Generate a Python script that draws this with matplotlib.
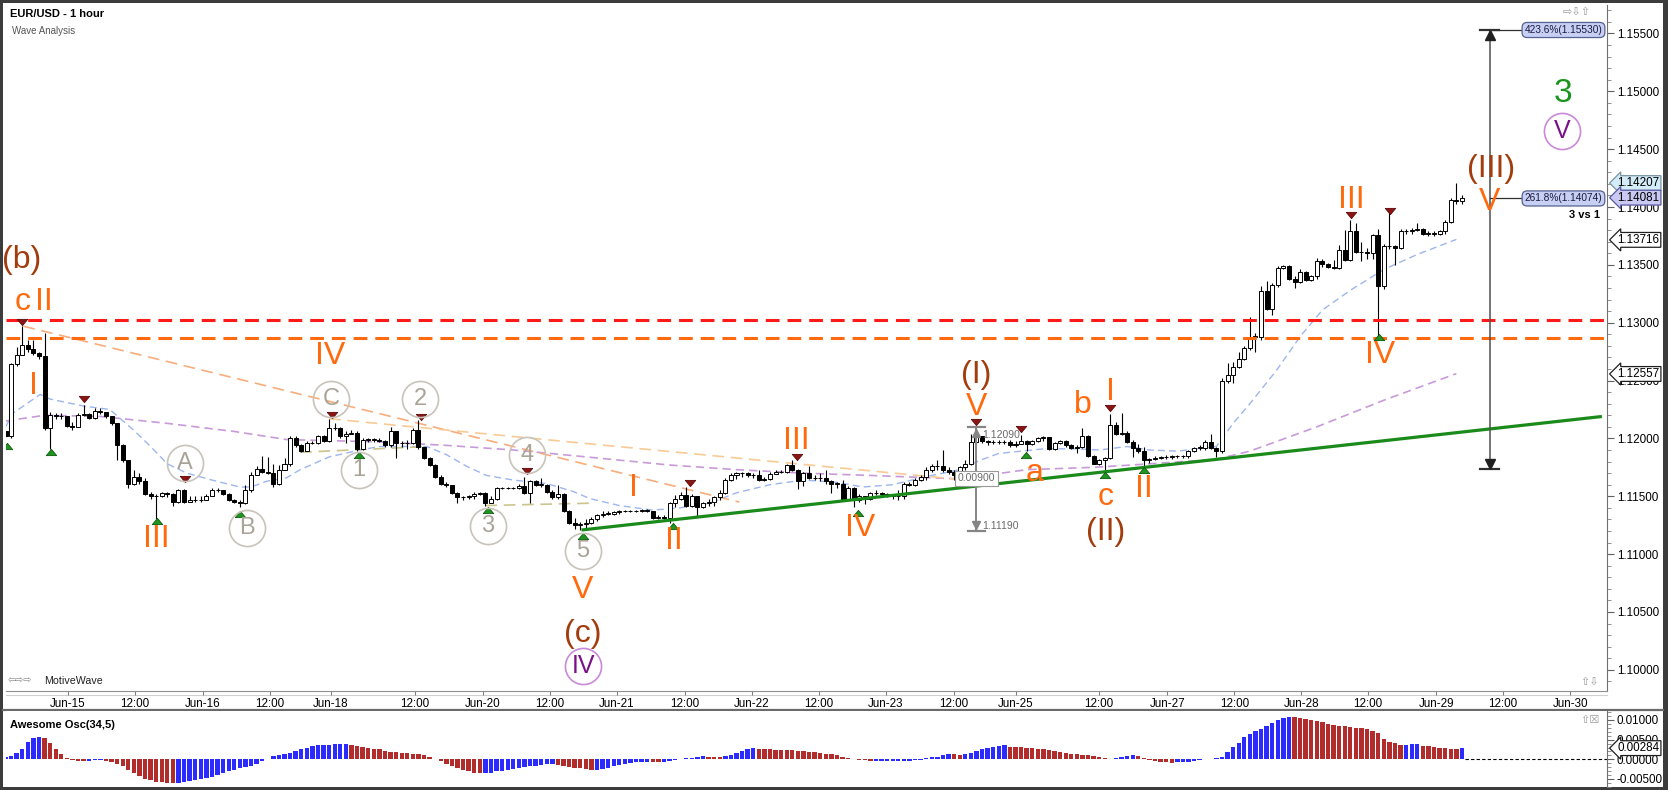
import matplotlib
matplotlib.use("Agg")
import matplotlib.pyplot as plt
from matplotlib.patches import Rectangle
from matplotlib.lines import Line2D
from matplotlib.ticker import MultipleLocator
from matplotlib.transforms import blended_transform_factory
import numpy as np

W, H, DPI = 1668, 790, 100
plt.rcParams['font.family'] = ['Liberation Sans', 'DejaVu Sans']

# ---------------- data ----------------
open0 = 1.1206
close = [
    1.1202, 1.1264, 1.1272, 1.1281, 1.1277, 1.1274, 1.1271, 1.1209, 1.1220, 1.1219,
    1.1219, 1.1211, 1.1210, 1.1220, 1.1221, 1.1218, 1.1224, 1.1223, 1.1219, 1.1213,
    1.1194, 1.1181, 1.1161, 1.1167, 1.1163, 1.1152, 1.1150, 1.1150, 1.1153, 1.1152,
    1.1145, 1.1155, 1.1145, 1.1147, 1.1147, 1.1147, 1.1150, 1.1155, 1.1155, 1.1152,
    1.1147, 1.1145, 1.1144, 1.1155, 1.1168, 1.1174, 1.1171, 1.1170, 1.1161, 1.1173,
    1.1178, 1.1200, 1.1194, 1.1189, 1.1196, 1.1196, 1.1202, 1.1198, 1.1209, 1.1209,
    1.1202, 1.1204, 1.1205, 1.1191, 1.1199, 1.1199, 1.1199, 1.1198, 1.1194, 1.1206,
    1.1196, 1.1196, 1.1196, 1.1207, 1.1193, 1.1183, 1.1177, 1.1167, 1.1161, 1.1160,
    1.1153, 1.1149, 1.1149, 1.1150, 1.1152, 1.1153, 1.1144, 1.1148, 1.1157, 1.1157,
    1.1157, 1.1157, 1.1159, 1.1153, 1.1163, 1.1160, 1.1160, 1.1154, 1.1149, 1.1152,
    1.1137, 1.1127, 1.1125, 1.1126, 1.1127, 1.1130, 1.1134, 1.1135, 1.1135, 1.1136,
    1.1137, 1.1137, 1.1137, 1.1137, 1.1138, 1.1137, 1.1131, 1.1132, 1.1131, 1.1144,
    1.1148, 1.1151, 1.1142, 1.1150, 1.1141, 1.1144, 1.1145, 1.1149, 1.1153, 1.1164,
    1.1168, 1.1170, 1.1170, 1.1168, 1.1168, 1.1164, 1.1165, 1.1169, 1.1171, 1.1171,
    1.1177, 1.1173, 1.1163, 1.1170, 1.1166, 1.1166, 1.1166, 1.1163, 1.1161, 1.1161,
    1.1147, 1.1157, 1.1147, 1.1150, 1.1148, 1.1153, 1.1153, 1.1152, 1.1151, 1.1150,
    1.1150, 1.1161, 1.1160, 1.1164, 1.1167, 1.1173, 1.1176, 1.1176, 1.1173, 1.1171,
    1.1168, 1.1175, 1.1178, 1.1197, 1.1202, 1.1198, 1.1197, 1.1197, 1.1197, 1.1197,
    1.1194, 1.1195, 1.1198, 1.1195, 1.1198, 1.1200, 1.1201, 1.1191, 1.1196, 1.1198,
    1.1194, 1.1192, 1.1193, 1.1202, 1.1185, 1.1178, 1.1181, 1.1183, 1.1212, 1.1204,
    1.1205, 1.1197, 1.1192, 1.1189, 1.1181, 1.1182, 1.1183, 1.1184, 1.1184, 1.1185,
    1.1185, 1.1185, 1.1189, 1.1192, 1.1192, 1.1197, 1.1192, 1.1189, 1.1250, 1.1255,
    1.1262, 1.1269, 1.1278, 1.1288, 1.1288, 1.1327, 1.1312, 1.1333, 1.1347, 1.1349,
    1.1338, 1.1335, 1.1344, 1.1337, 1.1340, 1.1353, 1.1351, 1.1348, 1.1347, 1.1363,
    1.1354, 1.1379, 1.1361, 1.1361, 1.1360, 1.1376, 1.1332, 1.1366, 1.1366, 1.1365,
    1.1379, 1.1379, 1.1380, 1.1381, 1.1377, 1.1377, 1.1377, 1.1379, 1.1387, 1.1406,
    1.1405, 1.1408]
high = [
    1.1207, 1.1265, 1.1279, 1.1297, 1.1285, 1.1285, 1.1275, 1.1291, 1.1223, 1.1222,
    1.1222, 1.1219, 1.1214, 1.1222, 1.1229, 1.1222, 1.1226, 1.1226, 1.1223, 1.1219,
    1.1213, 1.1195, 1.1181, 1.1173, 1.1170, 1.1166, 1.1154, 1.1152, 1.1154, 1.1154,
    1.1153, 1.1156, 1.1156, 1.1150, 1.1150, 1.1150, 1.1152, 1.1157, 1.1157, 1.1155,
    1.1153, 1.1148, 1.1147, 1.1160, 1.1171, 1.1176, 1.1185, 1.1184, 1.1178, 1.1177,
    1.1183, 1.1202, 1.1202, 1.1195, 1.1198, 1.1198, 1.1203, 1.1203, 1.1217, 1.1213,
    1.1210, 1.1206, 1.1207, 1.1206, 1.1200, 1.1200, 1.1200, 1.1200, 1.1199, 1.1210,
    1.1206, 1.1198, 1.1199, 1.1209, 1.1216, 1.1193, 1.1184, 1.1178, 1.1168, 1.1162,
    1.1160, 1.1154, 1.1150, 1.1151, 1.1154, 1.1154, 1.1154, 1.1150, 1.1158, 1.1158,
    1.1158, 1.1158, 1.1161, 1.1167, 1.1164, 1.1164, 1.1166, 1.1161, 1.1155, 1.1160,
    1.1153, 1.1138, 1.1131, 1.1128, 1.1130, 1.1132, 1.1135, 1.1137, 1.1137, 1.1137,
    1.1138, 1.1138, 1.1138, 1.1138, 1.1139, 1.1139, 1.1137, 1.1134, 1.1134, 1.1145,
    1.1151, 1.1154, 1.1158, 1.1152, 1.1150, 1.1145, 1.1148, 1.1150, 1.1155, 1.1166,
    1.1170, 1.1171, 1.1171, 1.1171, 1.1170, 1.1173, 1.1167, 1.1171, 1.1173, 1.1173,
    1.1178, 1.1181, 1.1174, 1.1171, 1.1176, 1.1168, 1.1170, 1.1173, 1.1164, 1.1162,
    1.1164, 1.1159, 1.1158, 1.1152, 1.1150, 1.1154, 1.1155, 1.1154, 1.1153, 1.1152,
    1.1155, 1.1162, 1.1162, 1.1166, 1.1168, 1.1175, 1.1178, 1.1181, 1.1190, 1.1175,
    1.1173, 1.1176, 1.1181, 1.1204, 1.1209, 1.1200, 1.1199, 1.1199, 1.1199, 1.1199,
    1.1199, 1.1198, 1.1203, 1.1199, 1.1199, 1.1201, 1.1202, 1.1201, 1.1197, 1.1199,
    1.1199, 1.1195, 1.1194, 1.1209, 1.1203, 1.1186, 1.1182, 1.1184, 1.1221, 1.1214,
    1.1222, 1.1206, 1.1199, 1.1195, 1.1193, 1.1183, 1.1185, 1.1185, 1.1186, 1.1186,
    1.1186, 1.1186, 1.1190, 1.1193, 1.1194, 1.1199, 1.1204, 1.1193, 1.1252, 1.1265,
    1.1266, 1.1275, 1.1280, 1.1305, 1.1291, 1.1332, 1.1336, 1.1334, 1.1349, 1.1350,
    1.1350, 1.1340, 1.1346, 1.1345, 1.1341, 1.1356, 1.1355, 1.1352, 1.1354, 1.1367,
    1.1380, 1.1389, 1.1386, 1.1370, 1.1365, 1.1377, 1.1381, 1.1368, 1.1398, 1.1367,
    1.1381, 1.1381, 1.1382, 1.1386, 1.1382, 1.1379, 1.1379, 1.1380, 1.1389, 1.1408,
    1.1421, 1.1410]
low = [
    1.1200, 1.1200, 1.1263, 1.1272, 1.1275, 1.1272, 1.1269, 1.1207, 1.1191, 1.1217,
    1.1217, 1.1210, 1.1207, 1.1210, 1.1219, 1.1217, 1.1217, 1.1221, 1.1218, 1.1212,
    1.1181, 1.1180, 1.1157, 1.1160, 1.1161, 1.1151, 1.1148, 1.1130, 1.1149, 1.1149,
    1.1142, 1.1144, 1.1144, 1.1145, 1.1145, 1.1145, 1.1147, 1.1150, 1.1154, 1.1151,
    1.1146, 1.1144, 1.1141, 1.1143, 1.1154, 1.1168, 1.1170, 1.1169, 1.1158, 1.1160,
    1.1173, 1.1176, 1.1193, 1.1188, 1.1189, 1.1195, 1.1195, 1.1197, 1.1197, 1.1207,
    1.1200, 1.1196, 1.1204, 1.1189, 1.1190, 1.1197, 1.1197, 1.1197, 1.1193, 1.1193,
    1.1183, 1.1193, 1.1191, 1.1195, 1.1191, 1.1182, 1.1176, 1.1166, 1.1160, 1.1158,
    1.1152, 1.1144, 1.1147, 1.1148, 1.1148, 1.1151, 1.1142, 1.1144, 1.1147, 1.1156,
    1.1156, 1.1156, 1.1156, 1.1152, 1.1144, 1.1159, 1.1158, 1.1153, 1.1148, 1.1148,
    1.1136, 1.1126, 1.1122, 1.1121, 1.1122, 1.1126, 1.1129, 1.1132, 1.1134, 1.1134,
    1.1135, 1.1136, 1.1136, 1.1136, 1.1136, 1.1136, 1.1130, 1.1130, 1.1130, 1.1127,
    1.1141, 1.1147, 1.1141, 1.1141, 1.1133, 1.1140, 1.1142, 1.1142, 1.1147, 1.1152,
    1.1163, 1.1165, 1.1167, 1.1167, 1.1166, 1.1163, 1.1163, 1.1164, 1.1169, 1.1170,
    1.1170, 1.1172, 1.1156, 1.1159, 1.1165, 1.1164, 1.1163, 1.1161, 1.1153, 1.1157,
    1.1147, 1.1147, 1.1141, 1.1145, 1.1143, 1.1147, 1.1151, 1.1150, 1.1149, 1.1148,
    1.1147, 1.1148, 1.1159, 1.1159, 1.1163, 1.1164, 1.1171, 1.1173, 1.1171, 1.1169,
    1.1164, 1.1166, 1.1173, 1.1177, 1.1196, 1.1196, 1.1194, 1.1195, 1.1195, 1.1195,
    1.1193, 1.1193, 1.1195, 1.1189, 1.1194, 1.1197, 1.1198, 1.1190, 1.1190, 1.1195,
    1.1193, 1.1191, 1.1187, 1.1192, 1.1184, 1.1178, 1.1177, 1.1171, 1.1182, 1.1203,
    1.1203, 1.1196, 1.1184, 1.1187, 1.1175, 1.1179, 1.1181, 1.1182, 1.1182, 1.1182,
    1.1183, 1.1183, 1.1183, 1.1188, 1.1190, 1.1190, 1.1191, 1.1184, 1.1187, 1.1248,
    1.1248, 1.1261, 1.1268, 1.1276, 1.1275, 1.1285, 1.1311, 1.1307, 1.1331, 1.1346,
    1.1337, 1.1330, 1.1334, 1.1336, 1.1336, 1.1338, 1.1348, 1.1347, 1.1346, 1.1346,
    1.1353, 1.1353, 1.1360, 1.1353, 1.1355, 1.1355, 1.1285, 1.1329, 1.1364, 1.1350,
    1.1364, 1.1377, 1.1377, 1.1379, 1.1376, 1.1375, 1.1375, 1.1376, 1.1377, 1.1386,
    1.1403, 1.1403]

# Awesome Oscillator (34,5), one value per candle
ao = [
    0.0005, 0.0008, 0.0015, 0.0027, 0.0044, 0.0054, 0.0058, 0.0053, 0.0041, 0.0025,
    0.0014, 0.0003, -0.0003, -0.0005, -0.0005, -0.0004, -0.0003, -0.00025, -0.0004, -0.0007,
    -0.0012, -0.0018, -0.0026, -0.0036, -0.0043, -0.0049, -0.0053, -0.0058, -0.0059, -0.0060,
    -0.0061, -0.0060, -0.0058, -0.0055, -0.0053, -0.0051, -0.0048, -0.0044, -0.0040, -0.0036,
    -0.0031, -0.0027, -0.0023, -0.0019, -0.0016, -0.0012, -0.0005, 0.0002, 0.0008, 0.0011,
    0.0014, 0.0015, 0.0020, 0.0025, 0.0030, 0.0034, 0.0036, 0.0037, 0.00375, 0.0038,
    0.00385, 0.0039, 0.0036, 0.0034, 0.0031, 0.0030, 0.0027, 0.0025, 0.0020, 0.0019,
    0.0018, 0.0017, 0.0016, 0.0014, 0.0013, 0.0012, 0.0007, 0.0001, -0.0005, -0.0011,
    -0.0017, -0.0023, -0.0027, -0.0031, -0.0034, -0.0036, -0.0035, -0.0034, -0.0031, -0.0029,
    -0.0026, -0.0024, -0.0021, -0.0019, -0.0018, -0.0016, -0.0014, -0.0013, -0.0012, -0.0014,
    -0.0017, -0.0019, -0.0021, -0.0023, -0.0025, -0.0027, -0.0026, -0.0025, -0.0021, -0.0017,
    -0.0014, -0.0011, -0.0009, -0.0008, -0.0007, -0.0006, -0.0007, -0.0008, -0.0006, -0.0004,
    -0.0002, 0.0001, 0.0003, 0.0004, 0.0007, 0.0008, 0.0007, 0.00065, 0.0006, 0.0008,
    0.0012, 0.0016, 0.0021, 0.0025, 0.0028, 0.0027, 0.0026, 0.0025, 0.00245, 0.0024,
    0.00235, 0.0023, 0.0022, 0.0021, 0.0019, 0.0018, 0.0015, 0.0014, 0.0013, 0.0010,
    0.0007, 0.0003, 0.0002, -0.0001, -0.0003, -0.0005, -0.00049, -0.00048, -0.00047, -0.00046,
    -0.00045, -0.0004, -0.00035, -0.0003, -0.0001, 0.0003, 0.0005, 0.0007, 0.0011, 0.0013,
    0.00125, 0.0012, 0.00135, 0.0016, 0.0020, 0.0025, 0.0028, 0.0031, 0.0035, 0.0036,
    0.0032, 0.00315, 0.0031, 0.0030, 0.0028, 0.0026, 0.0025, 0.0023, 0.0020, 0.0019,
    0.0017, 0.0014, 0.0013, 0.0012, 0.0010, 0.0008, 0.0006, 0.0003, 0.0001, 0.0003,
    0.0007, 0.0009, 0.0011, 0.0009, 0.0003, -0.0002, -0.0005, -0.0007, -0.0008, -0.0010,
    -0.0008, -0.0007, -0.0006, -0.0004, -0.0003, -0.00005, 0.0002, 0.0003, 0.0007, 0.0019,
    0.0031, 0.0042, 0.0056, 0.0064, 0.0072, 0.0078, 0.0085, 0.0092, 0.0100, 0.0106,
    0.0108, 0.0107, 0.0105, 0.0102, 0.0099, 0.0097, 0.0094, 0.0091, 0.0088, 0.0086,
    0.0084, 0.0082, 0.0080, 0.0079, 0.0076, 0.0073, 0.0066, 0.0051, 0.0045, 0.0041,
    0.0037, 0.00375, 0.0038, 0.00385, 0.0035, 0.0033, 0.0031, 0.0030, 0.0028, 0.0027,
    0.0026, 0.00284]

# moving averages on the price panel (vertices)
ma_fast_x = [0, 1.4, 6.2, 8, 14, 18.7, 23, 26, 29, 32.5, 37, 42, 44, 46.8, 50.4, 52.8, 58,
             63.5, 67, 71.9, 75.5, 79, 82.6, 86.2, 91, 97, 101.8, 104.7, 110, 116, 120.9,
             126.2, 131, 137, 143, 149, 153.7, 159, 165, 171, 174.6, 178, 186, 192, 196,
             201, 205, 210, 217, 220, 223, 227.8, 232, 236, 241, 247, 253, 260]
ma_fast_y = [1.1210, 1.1222, 1.1238, 1.1234, 1.1228, 1.1225, 1.1207, 1.1193, 1.1178, 1.1170,
             1.1164, 1.1158, 1.1158, 1.1163, 1.1166, 1.1173, 1.1184, 1.1190, 1.1193, 1.1193,
             1.1193, 1.1186, 1.1176, 1.1168, 1.1164, 1.1161, 1.1154, 1.1148, 1.1142, 1.1138,
             1.1140, 1.1144, 1.1153, 1.1160, 1.1164, 1.1162, 1.1158, 1.1160, 1.1167, 1.1173,
             1.1181, 1.1187, 1.1191, 1.1191, 1.1190, 1.1193, 1.1190, 1.1189, 1.1193, 1.1213,
             1.1230, 1.1259, 1.1288, 1.1311, 1.1328, 1.1346, 1.1359, 1.1372]
ma_slow_x = [0, 7, 17, 29, 41, 50.4, 67, 79, 91, 102, 119, 131, 143, 155, 171, 183, 195,
             205, 217, 223, 235, 247, 260]
ma_slow_y = [1.1215, 1.1220, 1.1219, 1.1213, 1.1206, 1.1199, 1.1197, 1.1194, 1.1190, 1.1185,
             1.1177, 1.1173, 1.1170, 1.1168, 1.1165, 1.1173, 1.1175, 1.1178, 1.1182, 1.1189,
             1.1210, 1.1233, 1.1256]

# drawn lines
resist_red = 1.1302
resist_orange = 1.12865
trend_green = ([103.5, 285.8], [1.1121, 1.12188])
trend_orange = ([3.2, 131.5], [1.1297, 1.1145])
trend_peach = ([58, 170], [1.1217, 1.1165])
olive_segs = [([52.8, 75.5], [1.1188, 1.1193]), ([86, 104.7], [1.1142, 1.1144])]

tick_pos = [11.2, 23.2, 35.4, 47.4, 58.3, 73.4, 85.5, 97.5, 109.6, 121.8, 133.8, 145.8,
            157.8, 170.0, 181.0, 195.9, 208.2, 220.2, 232.2, 244.2, 256.4, 268.4, 280.4]
tick_lbl = ['Jun-15', '12:00', 'Jun-16', '12:00', 'Jun-18', '12:00', 'Jun-20', '12:00',
            'Jun-21', '12:00', 'Jun-22', '12:00', 'Jun-23', '12:00', 'Jun-25', '12:00',
            'Jun-27', '12:00', 'Jun-28', '12:00', 'Jun-29', '12:00', 'Jun-30']

ORANGE = '#ff6a0e'
BROWN = '#a33c0c'
GREEN = '#1c931c'
PURPLE = '#7b1089'
GREYTXT = '#a9a497'

wave_labels = [
    ("(b)", 2.9, 1.1354, BROWN), ("c", 3.0, 1.1318, ORANGE), ("II", 6.9, 1.1318, ORANGE),
    ("I", 5.0, 1.1245, ORANGE), ("III", 27.1, 1.1113, ORANGE), ("IV", 58.2, 1.1271, ORANGE),
    ("V", 103.5, 1.1069, ORANGE), ("(c)", 103.5, 1.1031, BROWN),
    ("I", 112.5, 1.1157, ORANGE), ("II", 119.7, 1.1111, ORANGE), ("III", 141.8, 1.1198, ORANGE),
    ("IV", 153.1, 1.1123, ORANGE), ("(I)", 174.0, 1.1255, BROWN), ("V", 174.0, 1.1227, ORANGE),
    ("a", 184.5, 1.1170, ORANGE), ("b", 193.0, 1.1229, ORANGE), ("c", 197.2, 1.1149, ORANGE),
    ("I", 198.0, 1.1240, ORANGE), ("II", 204.0, 1.1156, ORANGE), ("(II)", 197.1, 1.1119, BROWN),
    ("III", 241.2, 1.1406, ORANGE), ("IV", 246.3, 1.1272, ORANGE), ("(III)", 266.2, 1.1433, BROWN),
    ("V", 266.0, 1.1404, ORANGE),
]
circled = [
    ("A", 32.2, 1.1179, GREYTXT), ("B", 43.2, 1.1123, GREYTXT), ("C", 58.3, 1.1234, GREYTXT),
    ("1", 63.4, 1.1173, GREYTXT), ("2", 74.3, 1.1234, GREYTXT), ("3", 86.4, 1.1124, GREYTXT),
    ("4", 93.4, 1.1186, GREYTXT), ("5", 103.5, 1.1103, GREYTXT),
    ("IV", 103.5, 1.1003, PURPLE), ("V", 278.9, 1.1466, PURPLE),
]
top_marks = [(3, 1.1301), (14.1, 1.1234), (32.2, 1.11646), (58.5, 1.12202), (74.4, 1.12188),
             (93.4, 1.11721), (122.7, 1.11617), (141.8, 1.11837), (174, 1.12144),
             (182, 1.12079), (198, 1.12260), (241.2, 1.13931), (248.2, 1.13968)]
bot_marks = [(0.3, 1.11934), (8.1, 1.11885), (27.2, 1.11286), (42.1, 1.11347), (63.4, 1.11857),
             (86.5, 1.11381), (103.5, 1.11157), (119.7, 1.11243), (152.8, 1.11358),
             (182.8, 1.11857), (197, 1.11684), (204, 1.11727), (246.2, 1.12874)]

# ---------------- figure ----------------
fig = plt.figure(figsize=(W / DPI, H / DPI), dpi=DPI, facecolor='#3c3c3c')
fig.patches.append(Rectangle((3 / W, 3 / H), 1660 / W, 784 / H, transform=fig.transFigure,
                             facecolor='white', edgecolor='none', zorder=-10))


def fx(px):
    return px / W


def fy(py):
    return 1 - py / H


def ftext(px, py, s, **kw):
    fig.text(fx(px), fy(py), s, **kw)


ax = fig.add_axes([fx(6), fy(691), fx(1607) - fx(6), fy(5) - fy(691)])
osc = fig.add_axes([fx(6), fy(787), fx(1607) - fx(6), fy(711) - fy(787)], sharex=ax)
for a in (ax, osc):
    a.set_zorder(2)
    a.set_facecolor('white')
    for s in ('top', 'left'):
        a.spines[s].set_visible(False)
    a.spines['right'].set_color('#707070')
    a.spines['bottom'].set_color('#909090')

ax.set_xlim(0.09, 287.0)
ax.set_ylim(1.09817, 1.15746)
osc.set_ylim(-0.00705, 0.01229)

# candles
n = len(close)
xs = np.arange(n)
opens = [open0] + close[:-1]
for i in range(n):
    o, c = opens[i], close[i]
    hi = max(high[i], o, c)
    lo = min(low[i], o, c)
    ax.vlines(i, lo, hi, color='black', lw=0.8, zorder=3)
    up = c >= o
    ax.bar(i, max(abs(c - o), 0.00002), bottom=min(o, c), width=0.72,
           color='white' if up else 'black', edgecolor='black', lw=0.7, zorder=4)

# indicators and drawings
ax.plot(ma_fast_x, ma_fast_y, color='#9db6ee', lw=1.0, ls=(0, (5, 3)), zorder=2)
ax.plot(ma_slow_x, ma_slow_y, color='#c99ad9', lw=1.2, ls=(0, (5, 3)), zorder=2)
ax.plot(*trend_orange, color='#f9ad7c', lw=1.2, ls=(0, (7, 4)), zorder=2)
ax.plot(*trend_peach, color='#f8cb96', lw=1.2, ls=(0, (7, 4)), zorder=2)
for sx, sy in olive_segs:
    ax.plot(sx, sy, color='#cbc48c', lw=1.2, ls=(0, (7, 4)), zorder=2)
ax.axhline(resist_red, color='#ff1a1a', lw=2.2, ls=(0, (4.5, 2.6)), zorder=5)
ax.axhline(resist_orange, color='#ff6a10', lw=2.2, ls=(0, (4.5, 2.6)), zorder=5)
ax.plot(*trend_green, color='#1a8a1a', lw=2.3, zorder=5)

# swing markers
tri_dn = [(-1, 0.6), (1, 0.6), (0, -0.6), (-1, 0.6)]
tri_up = [(-1, -0.6), (1, -0.6), (0, 0.6), (-1, -0.6)]
ax.plot([p[0] for p in top_marks], [p[1] for p in top_marks], ls='none', marker=tri_dn,
        ms=7.5, mfc='#8e1414', mec='#5a0808', mew=0.6, zorder=6)
ax.plot([p[0] for p in bot_marks], [p[1] for p in bot_marks], ls='none', marker=tri_up,
        ms=7.5, mfc='#1f951f', mec='#0b5a0b', mew=0.6, zorder=6)

# wave labels
for s, x, y, col in wave_labels:
    ax.text(x, y, s, color=col, fontsize=23, ha='center', va='center', zorder=7)
ax.text(279.1, 1.1498, "3", color=GREEN, fontsize=24, ha='center', va='center', zorder=7)
for s, x, y, col in circled:
    ec = '#c8c4bb' if col == GREYTXT else '#c98ad8'
    ax.plot([x], [y], 'o', ms=26, mfc='none', mec=ec, mew=1.2, zorder=7)
    ax.text(x, y, s, color=col, fontsize=17 if col == GREYTXT else 18, ha='center',
            va='center', zorder=7)

# price measure tool at wave (I)
mx = 174.0
ax.plot([mx, mx], [1.11202, 1.12096], color='#858585', lw=1.4, zorder=6)
for yv in (1.11202, 1.12096):
    ax.plot([mx - 1.6, mx + 1.6], [yv, yv], color='#858585', lw=1.6, zorder=6)
ax.plot([mx], [1.1205], marker='^', ms=6, color='#858585', zorder=6)
ax.plot([mx], [1.1125], marker='v', ms=6, color='#858585', zorder=6)
ax.text(mx + 1.1, 1.1203, "1.12090", fontsize=7.5, color='#6a6a6a', va='center', zorder=7)
ax.text(mx + 1.1, 1.11245, "1.11190", fontsize=7.5, color='#6a6a6a', va='center', zorder=7)
ax.text(mx, 1.11655, "0.00900", fontsize=7.5, color='#6a6a6a', ha='center', va='center',
        zorder=7, bbox=dict(boxstyle='square,pad=0.25', fc='white', ec='#9a9a9a', lw=0.8))

# fibonacci projection
fxl = 266.0
ax.plot([fxl, fxl], [1.11736, 1.1553], color='#505050', lw=1.1, zorder=6)
for yv in (1.11736, 1.1553):
    ax.plot([fxl - 1.7, fxl + 1.7], [yv, yv], color='#303030', lw=1.6, zorder=6)
ax.plot([fxl], [1.1549], marker='^', ms=7, color='#202020', zorder=6)
ax.plot([fxl], [1.1178], marker='v', ms=7, color='#202020', zorder=6)
for yv, s in ((1.1553, "423.6%(1.15530)"), (1.14074, "261.8%(1.14074)")):
    ax.plot([fxl, 272.5], [yv, yv], color='#303030', lw=0.9, zorder=6)
    ax.text(279.2, yv, s, fontsize=7.3, color='#1a1a3a', ha='center', va='center', zorder=8,
            bbox=dict(boxstyle='round,pad=0.25,rounding_size=0.5', fc='#c7cff5',
                      ec='#56628f', lw=0.9))
ax.text(285.8, 1.1393, "3 vs 1", fontsize=8, fontweight='bold', ha='right', va='center',
        zorder=8)

# price axis
ax.yaxis.tick_right()
ax.set_yticks(np.arange(1.100, 1.1551, 0.005))
ax.set_yticklabels([f"{v:.5f}" for v in np.arange(1.100, 1.1551, 0.005)])
ax.yaxis.set_minor_locator(MultipleLocator(0.001))
ax.tick_params(axis='y', which='major', length=5, width=0.8, color='#606060', labelsize=8.4,
               pad=2)
ax.tick_params(axis='y', which='minor', length=3, width=0.6, color='#808080')
ax.set_xticks(tick_pos)
ax.set_xticklabels(tick_lbl)
ax.tick_params(axis='x', length=3, width=0.8, color='#808080', labelsize=8.4, pad=2)

ytr = blended_transform_factory(ax.transAxes, ax.transData)
tags = [(1.14207, '#d4ebf8', '#7894a4'), (1.14081, '#c9c9f4', '#5a5aa0'),
        (1.13716, 'white', '#202020'), (1.12557, 'white', '#202020')]
for v, fc, ec in tags:
    ax.text(1.0065, v, f"{v:.5f}", transform=ytr, fontsize=8.4, ha='left', va='center',
            zorder=10, clip_on=False,
            bbox=dict(boxstyle='larrow,pad=0.12', fc=fc, ec=ec, lw=0.9))

# oscillator
colors = ['#2b2bff' if (i > 0 and ao[i] > ao[i - 1]) or (i == 0) else '#b22c2c'
          for i in range(n)]
osc.bar(xs, ao, width=0.78, color=colors, edgecolor='none', zorder=3)
osc.plot([n - 0.5, 287.0], [0, 0], color='black', lw=0.8, ls=(0, (3, 2)), zorder=2)
osc.yaxis.tick_right()
osc_ticks = [0.01, 0.005, 0.0, -0.005]
osc.set_yticks(osc_ticks)
osc.set_yticklabels([f"{v:.5f}" for v in osc_ticks])
osc.yaxis.set_minor_locator(MultipleLocator(0.001))
osc.tick_params(axis='y', which='major', length=5, width=0.8, color='#606060', labelsize=8.4,
                pad=2)
osc.tick_params(axis='y', which='minor', length=3, width=0.6, color='#808080')
osc.tick_params(axis='x', labelbottom=False, length=0)
osc.spines['bottom'].set_visible(False)
otr = blended_transform_factory(osc.transAxes, osc.transData)
osc.text(1.0065, 0.00284, "0.00284", transform=otr, fontsize=8.4, ha='left', va='center',
         zorder=10, clip_on=False,
         bbox=dict(boxstyle='larrow,pad=0.12', fc='white', ec='#202020', lw=0.9))

# panel chrome
fig.add_artist(Line2D([fx(3), fx(1663)], [fy(710), fy(710)], color='#6a6a6a', lw=1.6))
fig.add_artist(Line2D([fx(6), fx(1607)], [fy(695), fy(695)], color='#d0d0d0', lw=0.8))
ftext(10, 14, "EUR/USD - 1 hour", fontsize=8, fontweight='bold', va='center')
ftext(12, 31, "Wave Analysis", fontsize=7, color='#555555', va='center')
ftext(8, 681, "\u21e6\u21e8\u21e8", fontsize=7, color='#8a8a8a', va='center',
      family='DejaVu Sans')
ftext(44, 681, "MotiveWave", fontsize=7.7, color='#222222', va='center')
ftext(1563, 12, "\u21e8\u21e9\u21e7", fontsize=8, color='#9a9a9a', va='center',
      family='DejaVu Sans')
ftext(1580, 682, "\u21e7\u21e9", fontsize=8, color='#9a9a9a', va='center', family='DejaVu Sans')
ftext(1580, 720, "\u21e7\u2612", fontsize=8, color='#9a9a9a', va='center', family='DejaVu Sans')
ftext(10, 725, "Awesome Osc(34,5)", fontsize=8, fontweight='bold', va='center')

fig.savefig("out.png", dpi=DPI, facecolor=fig.get_facecolor())
